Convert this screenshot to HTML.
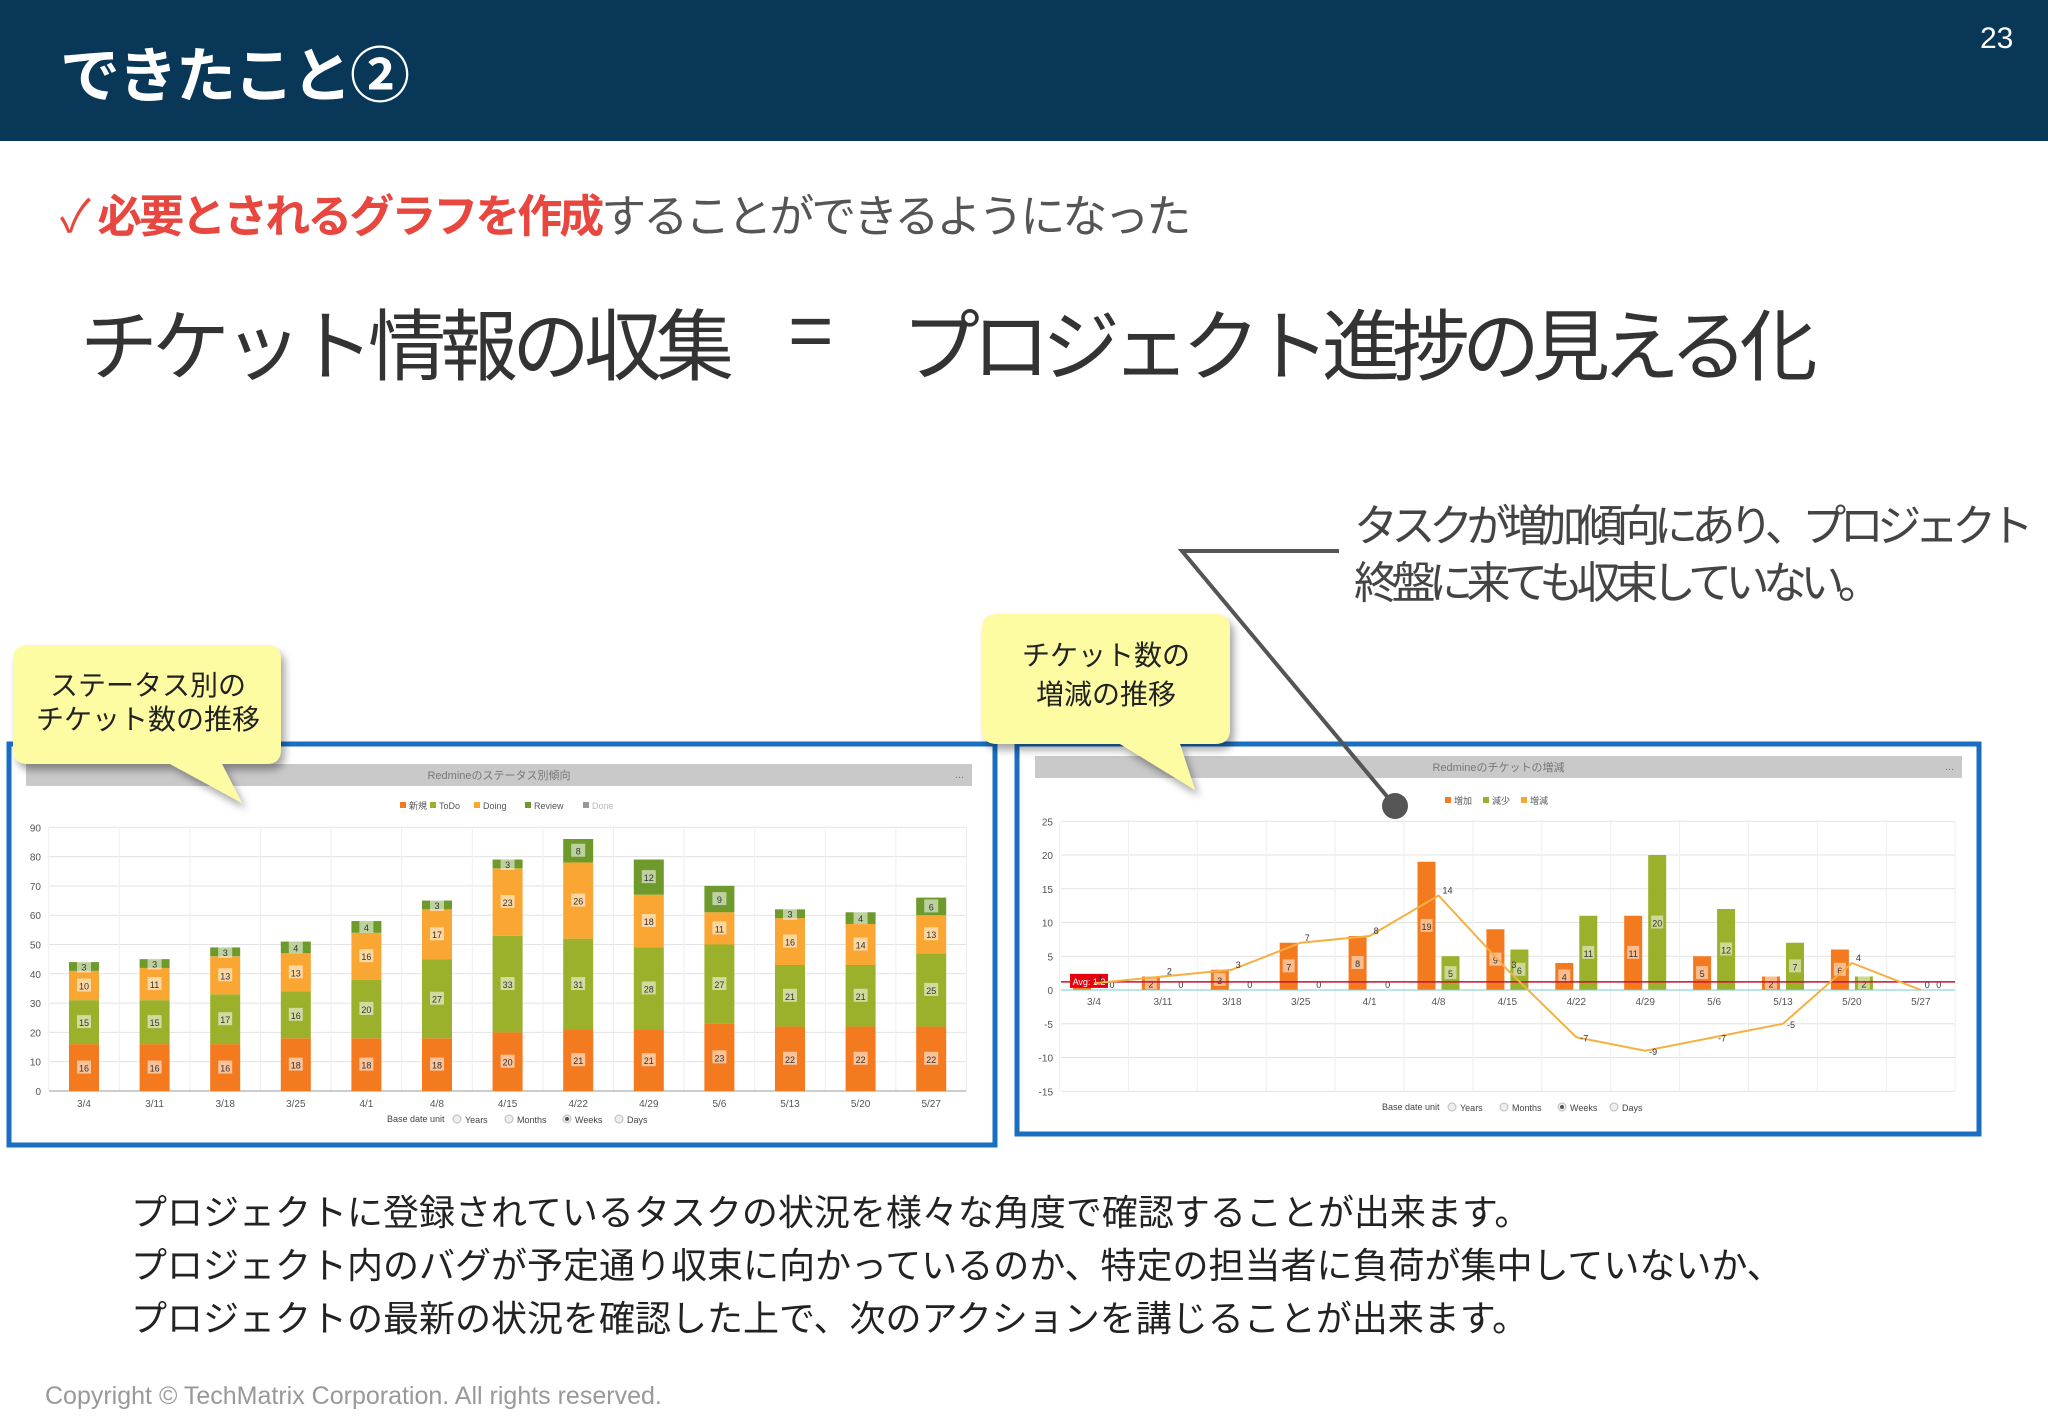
<!DOCTYPE html>
<html><head><meta charset="utf-8">
<style>
body{margin:0;width:2048px;height:1418px;position:relative;background:#fff;overflow:hidden;font-family:"Liberation Sans","Noto Sans CJK JP",sans-serif;}
.a{position:absolute;white-space:nowrap;}
</style></head><body>
<div class="a" style="left:0;top:0;width:2048px;height:141px;background:#083757;"></div>
<div class="a" style="left:60px;top:28px;font-size:60px;font-weight:bold;color:#fff;letter-spacing:-2px;">できたこと②</div>
<div class="a" style="left:1980px;top:22px;font-size:30px;color:#fff;">23</div>
<div class="a" style="left:60px;top:180px;font-size:45px;color:#555;letter-spacing:-3px;"><span style="color:#e8473f;">✓ </span><span style="color:#e8473f;font-weight:bold;">必要とされるグラフを作成</span>することができるようになった</div>
<div class="a" style="left:80px;top:285px;font-size:78px;color:#333;letter-spacing:-6px;">チケット情報の収集</div>
<div class="a" style="left:788px;top:285px;font-size:78px;color:#333;">=</div>
<div class="a" style="left:902px;top:285px;font-size:78px;color:#333;letter-spacing:-8px;">プロジェクト進捗の見える化</div>
<div class="a" style="left:1354px;top:498px;font-size:44px;line-height:57px;color:#444;letter-spacing:-6.5px;">タスクが増加傾向にあり、プロジェクト<br>終盤に来ても収束していない。</div>
<div class="a" style="left:131px;top:1186px;font-size:36px;line-height:53px;color:#222;">プロジェクトに登録されているタスクの状況を様々な角度で確認することが出来ます。<br>プロジェクト内のバグが予定通り収束に向かっているのか、特定の担当者に負荷が集中していないか、<br>プロジェクトの最新の状況を確認した上で、次のアクションを講じることが出来ます。</div>
<div class="a" style="left:45px;top:1382px;font-size:25px;color:#999;">Copyright © TechMatrix Corporation. All rights reserved.</div>

<svg id="s" class="a" style="left:0;top:0" width="2048" height="1418" xmlns="http://www.w3.org/2000/svg">
<defs><filter id="sh" x="-20%" y="-20%" width="140%" height="150%"><feDropShadow dx="4" dy="6" stdDeviation="4" flood-color="#000" flood-opacity="0.35"/></filter></defs>
<rect x="9" y="744" width="986" height="401" fill="#fff" stroke="#1a6ec0" stroke-width="5"/>
<rect x="1017" y="744" width="962" height="390" fill="#fff" stroke="#1a6ec0" stroke-width="5"/>
<g id="lc"></g><g id="rc"></g>
<path filter="url(#sh)" d="M28 645 H266 Q281 645 281 660 V749 Q281 764 266 764 H222 L242 803 L170 764 H28 Q13 764 13 749 V660 Q13 645 28 645Z" fill="#fdfca2"/>
<text x="148" y="695" font-size="28" text-anchor="middle" fill="#222">ステータス別の</text>
<text x="148" y="729" font-size="28" text-anchor="middle" fill="#222">チケット数の推移</text>
<path filter="url(#sh)" d="M997 614 H1215 Q1230 614 1230 629 V729 Q1230 744 1215 744 H1180 L1195 790 L1120 744 H997 Q982 744 982 729 V629 Q982 614 997 614Z" fill="#fdfca2"/>
<text x="1106" y="665" font-size="28" text-anchor="middle" fill="#222">チケット数の</text>
<text x="1106" y="704" font-size="28" text-anchor="middle" fill="#222">増減の推移</text>
<polyline points="1339,551 1182,551 1395,806" fill="none" stroke="#555" stroke-width="4"/>
<circle cx="1395" cy="806" r="13" fill="#555"/>
</svg>
<script>
const lCats=["3/4","3/11","3/18","3/25","4/1","4/8","4/15","4/22","4/29","5/6","5/13","5/20","5/27"];
const sNew=[16,16,16,18,18,18,20,21,21,23,22,22,22];
const sTodo=[15,15,17,16,20,27,33,31,28,27,21,21,25];
const sDoing=[10,11,13,13,16,17,23,26,18,11,16,14,13];
const sReview=[3,3,3,4,4,3,3,8,12,9,3,4,6];
const lTicks=[0,10,20,30,40,50,60,70,80,90];
const rIncrease=[1,2,3,7,8,19,9,4,11,5,2,6,0];
const rDecrease=[0,0,0,0,0,5,6,11,20,12,7,2,0];
const rNet=[1,2,3,7,8,14,3,-7,-9,-7,-5,4,0];
const rAvg=1.2;
const rTicks=[-15,-10,-5,0,5,10,15,20,25];
const NS="http://www.w3.org/2000/svg";
function mk(p,t,a,txt){const e=document.createElementNS(NS,t);for(const k in a)e.setAttribute(k,a[k]);if(txt!==undefined)e.textContent=txt;p.appendChild(e);return e;}
function header(g,x,y,w,title){
 mk(g,"rect",{x:x,y:y,width:w,height:22,fill:"#c9c9c9"});
 mk(g,"text",{x:x+w/2,y:y+15,"font-size":11,fill:"#777","text-anchor":"middle"},title);
 mk(g,"text",{x:x+w-8,y:y+14,"font-size":11,fill:"#777","text-anchor":"end"},"...");
}
function baseUnit(g,cx,y){
 mk(g,"text",{x:cx-110,y:y,"font-size":9,fill:"#444"},"Base date unit");
 const opts=["Years","Months","Weeks","Days"];let x=cx-40;
 opts.forEach((o,i)=>{mk(g,"circle",{cx:x,cy:y-3,r:4,fill:"#eee",stroke:"#bbb"});if(i==2)mk(g,"circle",{cx:x,cy:y-3,r:2,fill:"#555"});mk(g,"text",{x:x+8,y:y+1,"font-size":9,fill:"#444"},o);x+=8+o.length*6+14;});
}
// left chart
(function(){
 const g=document.getElementById("lc");
 const K=2.93;
 const yL=v=>1091-v*K, xL=i=>84+i*70.6;
 header(g,26,764,946,"Redmineのステータス別傾向");
 lTicks.forEach(t=>{mk(g,"line",{x1:49,x2:966,y1:yL(t),y2:yL(t),stroke:"#e3e3e3"});
  const l=mk(g,"text",{x:41,y:yL(t)+4,"font-size":10,fill:"#555","text-anchor":"end"},t);
  });
 for(let i=0;i<=lCats.length;i++)mk(g,"line",{x1:xL(i)-35.3,x2:xL(i)-35.3,y1:yL(90),y2:yL(0),stroke:"#eee"});
 mk(g,"line",{x1:49,x2:966,y1:yL(0),y2:yL(0),stroke:"#999"});
 const series=[[sNew,"#f37a1f"],[sTodo,"#9bb02b"],[sDoing,"#f9a632"],[sReview,"#6e9a2b"]];
 const names=["新規","ToDo","Doing","Review","Done"],lc=["#f37a1f","#9bb02b","#f9a632","#6e9a2b","#999"];
 let lx=400;names.forEach((n,i)=>{mk(g,"rect",{x:lx,y:802,width:6,height:6,fill:lc[i]});mk(g,"text",{x:lx+9,y:809,"font-size":9,fill:i==4?"#bbb":"#555"},n);lx+=16+n.length*7;});
 lCats.forEach((c,i)=>{
  let base=0;
  series.forEach(([arr,col],si)=>{
   const v=arr[i];const r=mk(g,"rect",{x:xL(i)-15,y:yL(base+v),width:30,height:v*K,fill:col});
   
   const cy=yL(base+v/2);
   mk(g,"rect",{x:xL(i)-7,y:cy-7,width:14,height:13,fill:"#fff",opacity:0.55});
   mk(g,"text",{x:xL(i),y:cy+4,"font-size":9,fill:"#333","text-anchor":"middle"},v);
   base+=v;
  });
  const t=mk(g,"text",{x:xL(i),y:1107,"font-size":10,fill:"#555","text-anchor":"middle"},c);
  
 });
 baseUnit(g,497,1122);
})();
// right chart
(function(){
 const g=document.getElementById("rc");
 const yR=v=>990-v*6.75, xR=i=>1094+i*68.9;
 header(g,1035,756,927,"Redmineのチケットの増減");
 rTicks.forEach(t=>{mk(g,"line",{x1:1061,x2:1955,y1:yR(t),y2:yR(t),stroke:"#e3e3e3"});
  const l=mk(g,"text",{x:1053,y:yR(t)+4,"font-size":10,fill:"#555","text-anchor":"end"},t);
  });
 for(let i=0;i<=lCats.length;i++)mk(g,"line",{x1:xR(i)-34.5,x2:xR(i)-34.5,y1:yR(25),y2:yR(-15),stroke:"#eee"});
 const leg=[["増加","#f37a1f"],["減少","#9bb02b"],["増減","#f9a632"]];let lx=1445;
 leg.forEach(([n,c])=>{mk(g,"rect",{x:lx,y:797,width:6,height:6,fill:c});mk(g,"text",{x:lx+9,y:804,"font-size":9,fill:"#555"},n);lx+=38;});
 lCats.forEach((c,i)=>{
  const a=rIncrease[i],d=rDecrease[i];
  const b1=mk(g,"rect",{x:xR(i)-21,y:yR(a),width:18,height:a*6.75,fill:"#f37a1f"});
  
  const b2=mk(g,"rect",{x:xR(i)+3,y:yR(d),width:18,height:d*6.75,fill:"#9bb02b"});
  
  if(a>1){mk(g,"rect",{x:xR(i)-18,y:yR(a/2)-7,width:12,height:13,fill:"#fff",opacity:0.5});mk(g,"text",{x:xR(i)-12,y:yR(a/2)+4,"font-size":9,fill:"#333","text-anchor":"middle"},a);}
  if(d>1){mk(g,"rect",{x:xR(i)+6,y:yR(d/2)-7,width:12,height:13,fill:"#fff",opacity:0.5});mk(g,"text",{x:xR(i)+12,y:yR(d/2)+4,"font-size":9,fill:"#333","text-anchor":"middle"},d);}
  else mk(g,"text",{x:xR(i)+18,y:yR(0)-2,"font-size":9,fill:"#333","text-anchor":"middle"},d);
  const t=mk(g,"text",{x:xR(i),y:1005,"font-size":10,fill:"#555","text-anchor":"middle"},c);
  
 });
 mk(g,"line",{x1:1061,x2:1955,y1:yR(0),y2:yR(0),stroke:"#7cc"});
 const av=mk(g,"line",{x1:1061,x2:1955,y1:yR(rAvg),y2:yR(rAvg),stroke:"#c8102e","stroke-width":1.5});
 
 mk(g,"rect",{x:1070,y:yR(rAvg)-8,width:38,height:14,fill:"#e8000f"});
 mk(g,"text",{x:1089,y:yR(rAvg)+3,"font-size":9,fill:"#fff","text-anchor":"middle"},"Avg: "+rAvg);
 const pl=mk(g,"polyline",{points:rNet.map((v,i)=>xR(i)+","+yR(v)).join(" "),fill:"none",stroke:"#f5b041","stroke-width":2});
 
 rNet.forEach((v,i)=>{mk(g,"text",{x:xR(i)+4,y:yR(v)+(v<0?4:-2),"font-size":9,fill:"#333"},v);});
 baseUnit(g,1492,1110);
})();
</script>
</body></html>
